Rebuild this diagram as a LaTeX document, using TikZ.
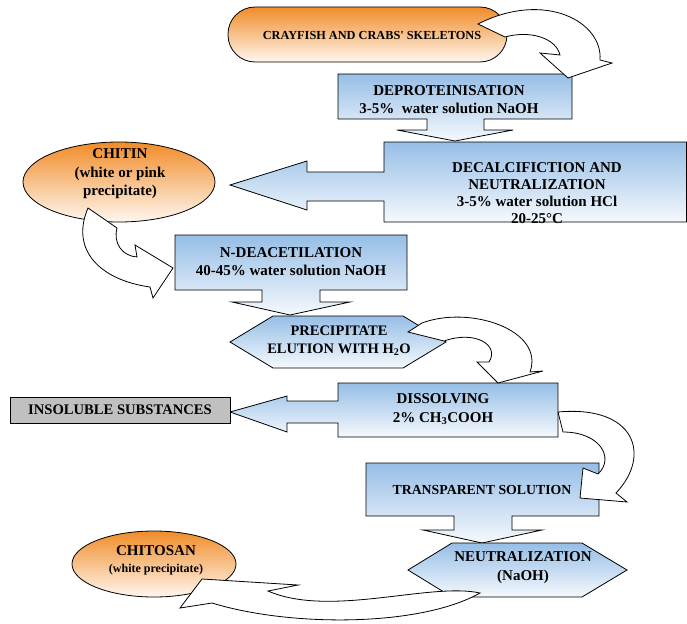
\documentclass[tikz,border=0pt]{standalone}
\usepackage{fontspec}
\setmainfont{Liberation Serif}
\definecolor{bluetop}{RGB}{150,190,230}
\definecolor{bluebot}{RGB}{245,249,253}
\definecolor{orangetop}{RGB}{240,140,40}
\definecolor{orangebot}{RGB}{255,247,240}
\definecolor{greybox}{RGB}{192,192,192}
\begin{document}
\begin{tikzpicture}[x=1pt,y=-1pt,line join=miter,
  bluebox/.style={draw=black,line width=0.8pt,top color=bluetop,bottom color=bluebot},
  orangebox/.style={draw=black,line width=0.8pt,top color=orangetop,bottom color=orangebot},
  bendarrow/.style={draw=black,line width=0.8pt,fill=white},
  txt/.style={inner sep=0pt,align=center,font=\fontsize{15}{18}\selectfont\bfseries}]
\useasboundingbox (0,0) rectangle (687,623);

% ---- start material
\path[orangebox,rounded corners=27pt] (228,7) rectangle (507,62);
\node[txt,font=\fontsize{12.3}{15}\selectfont\bfseries] (crayfish) at (372,35)
  {CRAYFISH AND CRABS\textquotesingle\ SKELETONS};

% ---- deproteinisation (down-arrow callout)
\path[bluebox] (338,74) -- (572,74) -- (572,119) -- (484,119) -- (484,130) -- (513,130)
  -- (455,141) -- (397,130) -- (427,130) -- (427,119) -- (338,119) -- cycle;
\node[txt] (deprot) at (449,100) {DEPROTEINISATION\\3-5\%\ \ water solution NaOH};

% ---- decalcification (left-arrow callout)
\path[bluebox] (384,142) -- (686.5,142) -- (686.5,222) -- (384,222) -- (384,201) -- (307,201)
  -- (307,210) -- (230,185) -- (307,161) -- (307,172) -- (384,172) -- cycle;
\node[txt,font=\fontsize{15}{17}\selectfont\bfseries] (decalc) at (537,193)
  {DECALCIFICTION AND\\NEUTRALIZATION\\3-5\% water solution HCl\\20-25°C};

% ---- chitin
\path[orangebox] (119,182) ellipse [x radius=96pt,y radius=40pt];
\node[txt,font=\fontsize{15}{18.5}\selectfont\bfseries] (chitin) at (120,174)
  {CHITIN\\(white or pink\\precipitate)};

% ---- N-deacetilation (down-arrow callout)
\path[bluebox] (175,235) -- (407,235) -- (407,290) -- (320,290) -- (320,302) -- (350,302)
  -- (290,315) -- (232,302) -- (262,302) -- (262,290) -- (175,290) -- cycle;
\node[txt] (ndeac) at (291,262) {N-DEACETILATION\\40-45\% water solution NaOH};

% ---- precipitate elution (hexagon)
\path[bluebox] (230,342) -- (273,316) -- (403,316) -- (446,342) -- (403,368) -- (273,368) -- cycle;
\node[txt,font=\fontsize{14.5}{18}\selectfont\bfseries] (precip) at (339,341)
  {PRECIPITATE\\ELUTION WITH H\textsubscript{2}O};

% ---- dissolving (left-arrow callout)
\path[bluebox] (338,383) -- (558,383) -- (558,437) -- (338,437) -- (338,423) -- (287,423)
  -- (287,432) -- (230,412) -- (287,396) -- (287,401) -- (338,401) -- cycle;
\node[txt,font=\fontsize{15}{19}\selectfont\bfseries] (dissolv) at (443,409)
  {DISSOLVING\\2\% CH\textsubscript{3}COOH};

% ---- insoluble substances
\path[draw=black,line width=0.8pt,fill=greybox] (10,397) rectangle (230,423);
\node[txt,font=\fontsize{14.6}{18}\selectfont\bfseries] (insol) at (120,410) {INSOLUBLE SUBSTANCES};

% ---- transparent solution (down-arrow callout)
\path[bluebox] (366,463) -- (599,463) -- (599,516) -- (512,516) -- (512,530) -- (542,530)
  -- (482,543) -- (423,530) -- (454,530) -- (454,516) -- (366,516) -- cycle;
\node[txt,font=\fontsize{13.8}{18}\selectfont\bfseries] (transp) at (482,490) {TRANSPARENT SOLUTION};

% ---- neutralization (hexagon)
\path[bluebox] (408,570) -- (452,543) -- (582,543) -- (627,570) -- (582,597) -- (452,597) -- cycle;
\node[txt,font=\fontsize{15}{19}\selectfont\bfseries] (neutr) at (523,568)
  {NEUTRALIZATION\\(NaOH)};

% ---- chitosan
\path[orangebox] (154,564) ellipse [x radius=82pt,y radius=33pt];
\node[txt,font=\fontsize{15}{17}\selectfont\bfseries] (chitosan) at (156,560)
  {CHITOSAN\\{\fontsize{12}{15}\selectfont(white precipitate)}};

% ---- curved block arrows
% skeletons -> deproteinisation
\path[bendarrow] (478,24) -- (505,37)
  .. controls (530,30) and (556,38) .. (560,55)
  -- (540,53) -- (568,78) -- (612,63) -- (600,60)
  .. controls (603,22) and (545,-10) .. (478,24) -- cycle;
% chitin -> N-deacetilation
\path[bendarrow] (88,208) -- (117,228)
  .. controls (113,243) and (122,256) .. (137,257)
  -- (135,245) -- (173,268) -- (153,298) -- (150,287)
  .. controls (100,280) and (70,250) .. (88,208) -- cycle;
% precipitate -> dissolving
\path[bendarrow] (408,332) -- (422,323)
  .. controls (470,305) and (545,330) .. (530,372)
  -- (543,371) -- (498,383) -- (477,362) -- (489,362)
  .. controls (500,345) and (475,330) .. (444,341) -- cycle;
% dissolving -> transparent solution
\path[bendarrow] (558,412) -- (563,432)
  .. controls (600,432) and (615,458) .. (598,474)
  -- (583,468) -- (580,498) -- (627,502) -- (616,493)
  .. controls (652,455) and (635,405) .. (558,412) -- cycle;
% neutralization -> chitosan
\path[bendarrow] (480,593)
  .. controls (430,582) and (330,618) .. (268,591)
  -- (298,585) -- (202,579) -- (180,608) -- (212,603)
  .. controls (290,627) and (420,627) .. (480,593) -- cycle;
\end{tikzpicture}
\end{document}
